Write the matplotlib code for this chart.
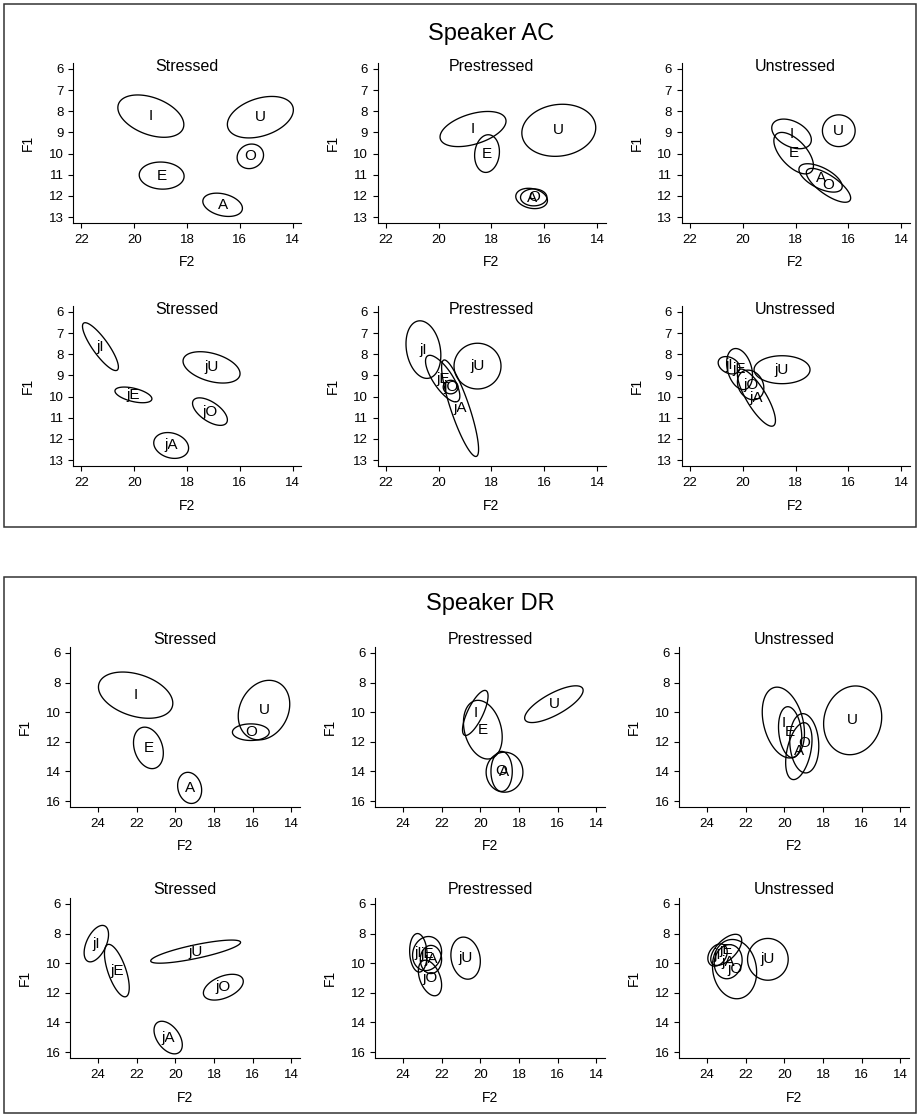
import numpy as np
import matplotlib
matplotlib.use("Agg")
import matplotlib.pyplot as plt
from matplotlib.patches import Rectangle, Polygon

plt.rcParams['font.family'] = ['Liberation Sans', 'DejaVu Sans']

speakers = ["AC", "DR"]
conditions = ["Stressed", "Prestressed", "Unstressed"]

# Panel order: AC row1 (S, P, U), AC row2 (S, P, U), DR row1 (S, P, U), DR row2 (S, P, U)
vowels = [
    ["I", "U", "O", "E", "A"],
    ["I", "E", "U", "A", "O"],
    ["I", "E", "U", "A", "O"],
    ["jI", "jE", "jU", "jO", "jA"],
    ["jI", "jE", "jO", "jA", "jU"],
    ["jI", "jE", "jO", "jA", "jU"],
    ["I", "E", "A", "U", "O"],
    ["I", "E", "U", "A", "O"],
    ["I", "E", "O", "A", "U"],
    ["jI", "jE", "jU", "jO", "jA"],
    ["jI", "jE", "jA", "jO", "jU"],
    ["jI", "jE", "jA", "jO", "jU"],
]
# mean F2 (x) per vowel
f2_mean = [
    [19.37, 15.22, 15.60, 18.96, 16.65],
    [18.70, 18.17, 15.45, 16.48, 16.40],
    [18.15, 18.07, 16.36, 17.05, 16.75],
    [21.28, 20.03, 17.07, 17.13, 18.60],
    [20.58, 19.85, 19.55, 19.19, 18.53],
    [20.52, 20.12, 19.70, 19.48, 18.51],
    [22.05, 21.39, 19.26, 15.42, 16.10],
    [20.26, 19.87, 16.20, 18.75, 18.90],
    [20.05, 19.70, 18.97, 19.25, 16.47],
    [24.08, 23.02, 18.95, 17.52, 20.37],
    [23.20, 22.75, 22.55, 22.60, 20.76],
    [23.45, 23.00, 22.90, 22.57, 20.85],
]
# mean F1 (y) per vowel
f1_mean = [
    [8.23, 8.28, 10.13, 11.04, 12.42],
    [8.84, 10.00, 8.90, 12.12, 12.07],
    [9.07, 9.98, 8.92, 11.15, 11.50],
    [7.64, 9.92, 8.62, 10.71, 12.31],
    [7.78, 9.15, 9.55, 10.55, 8.56],
    [8.52, 8.70, 9.45, 10.05, 8.73],
    [8.85, 12.41, 15.11, 9.86, 11.35],
    [10.05, 11.18, 9.46, 14.05, 14.00],
    [10.70, 11.35, 12.10, 12.63, 10.55],
    [8.68, 10.50, 9.22, 11.62, 15.02],
    [9.30, 9.35, 9.75, 11.00, 9.66],
    [9.45, 9.10, 9.90, 10.40, 9.74],
]
# ellipse half-extent along F2
f2_half = [
    [1.25, 1.25, 0.50, 0.85, 0.75],
    [1.25, 0.47, 1.40, 0.60, 0.50],
    [0.75, 0.75, 0.62, 0.82, 0.84],
    [0.68, 0.70, 1.08, 0.66, 0.66],
    [0.66, 0.65, 0.28, 0.70, 0.89],
    [0.41, 0.49, 0.50, 0.72, 1.06],
    [1.92, 0.77, 0.62, 1.33, 0.95],
    [0.66, 1.00, 1.51, 0.95, 0.55],
    [1.09, 0.60, 0.75, 0.68, 1.50],
    [0.63, 0.64, 2.32, 1.03, 0.73],
    [0.45, 0.75, 0.55, 0.60, 0.76],
    [0.50, 0.80, 0.72, 1.14, 1.05],
]
# ellipse half-extent along F1
f1_half = [
    [1.00, 0.98, 0.58, 0.64, 0.55],
    [0.83, 0.89, 1.23, 0.48, 0.40],
    [0.70, 0.98, 0.75, 0.67, 0.80],
    [1.13, 0.37, 0.74, 0.65, 0.61],
    [1.36, 1.10, 0.32, 2.28, 1.08],
    [0.41, 0.97, 0.70, 1.35, 0.66],
    [1.56, 1.40, 1.05, 2.01, 0.56],
    [1.52, 1.98, 1.24, 1.35, 1.35],
    [2.39, 1.72, 2.00, 1.92, 2.32],
    [1.23, 1.77, 0.78, 0.87, 1.10],
    [1.30, 1.15, 0.95, 1.20, 1.42],
    [0.75, 1.05, 1.15, 2.00, 1.41],
]
# F2-F1 correlation of each ellipse
corr = [
    [-0.40, 0.35, 0.10, -0.05, -0.30],
    [0.45, 0.10, 0.10, -0.20, 0.00],
    [-0.40, -0.60, 0.00, -0.60, -0.75],
    [-0.85, -0.50, -0.40, -0.60, -0.20],
    [-0.20, -0.75, 0.00, -0.85, 0.00],
    [-0.30, -0.30, -0.20, -0.80, 0.00],
    [-0.35, -0.25, -0.15, 0.20, 0.00],
    [0.75, -0.25, 0.75, 0.00, 0.00],
    [-0.30, -0.20, -0.10, 0.40, 0.10],
    [0.50, -0.65, 0.80, 0.45, -0.45],
    [-0.10, 0.10, 0.00, -0.40, -0.15],
    [0.30, 0.60, 0.10, -0.10, 0.00],
]

ac_xticks = [22, 20, 18, 16, 14]
ac_yticks = [6, 7, 8, 9, 10, 11, 12, 13]
dr_xticks = [24, 22, 20, 18, 16, 14]
dr_yticks = [6, 8, 10, 12, 14, 16]

W, H = 918, 1116
fig = plt.figure(figsize=(W / 100, H / 100), dpi=100)

# speaker boxes
for (y0, y1) in [(4, 527), (577, 1113)]:
    fig.patches.append(Rectangle((4 / W, 1 - y1 / H), 912 / W, (y1 - y0) / H,
                                 transform=fig.transFigure, fill=False,
                                 edgecolor='#333333', linewidth=1.1))

fig.text(491 / W, 1 - 40 / H, "Speaker AC", ha='center', va='baseline', fontsize=17)
fig.text(490 / W, 1 - 610 / H, "Speaker DR", ha='center', va='baseline', fontsize=17)

geom = {
    "AC": dict(lefts=[73, 377.5, 681.5], tops=[63, 306], w=228,
               xlim=(22.32, 13.68), ylim=(13.28, 5.72),
               xt=ac_xticks, yt=ac_yticks, title_off=-8),
    "DR": dict(lefts=[70, 375, 679], tops=[647, 898], w=230,
               xlim=(25.44, 13.56), ylim=(16.4, 5.6),
               xt=dr_xticks, yt=dr_yticks, title_off=3.5),
}
AH = 160
t = np.linspace(0, 2 * np.pi, 240, endpoint=False)

for p in range(12):
    spk = speakers[p // 6]
    row = (p % 6) // 3
    col = p % 3
    g = geom[spk]
    left = g["lefts"][col]
    top = g["tops"][row]
    ax = fig.add_axes([left / W, 1 - (top + AH) / H, g["w"] / W, AH / H])
    ax.set_xlim(*g["xlim"])
    ax.set_ylim(*g["ylim"])
    ax.set_xticks(g["xt"])
    ax.set_yticks(g["yt"])
    for s in ["top", "right"]:
        ax.spines[s].set_visible(False)
    for s in ["left", "bottom"]:
        ax.spines[s].set_linewidth(0.8)
    ax.tick_params(direction='out', length=3.8, width=0.8, labelsize=9.5, pad=3)
    ax.tick_params(axis='x', pad=4)
    ax.set_xlabel("F2", fontsize=10)
    ax.set_ylabel("F1", fontsize=10)
    ax.xaxis.set_label_coords(0.5, -39.5 / AH)
    ax.yaxis.set_label_coords(-45 / g["w"], 0.5)
    ax.yaxis.label.set_va('center')
    ax.xaxis.label.set_va('center')
    ax.text(0.5, 1 + g["title_off"] / AH, conditions[col], transform=ax.transAxes,
            ha='center', va='baseline', fontsize=11.5)
    ax.patch.set_alpha(0)
    for v, cx, cy, hx, hy, r in zip(vowels[p], f2_mean[p], f1_mean[p],
                                     f2_half[p], f1_half[p], corr[p]):
        xs = cx + hx * np.cos(t)
        ys = cy + hy * (r * np.cos(t) + np.sqrt(1 - r * r) * np.sin(t))
        ax.add_patch(Polygon(np.column_stack([xs, ys]), closed=True, fill=False,
                             edgecolor='black', linewidth=0.95))
        ax.text(cx, cy, v, ha='center', va='center', fontsize=11)

fig.savefig("out.png", dpi=100)
